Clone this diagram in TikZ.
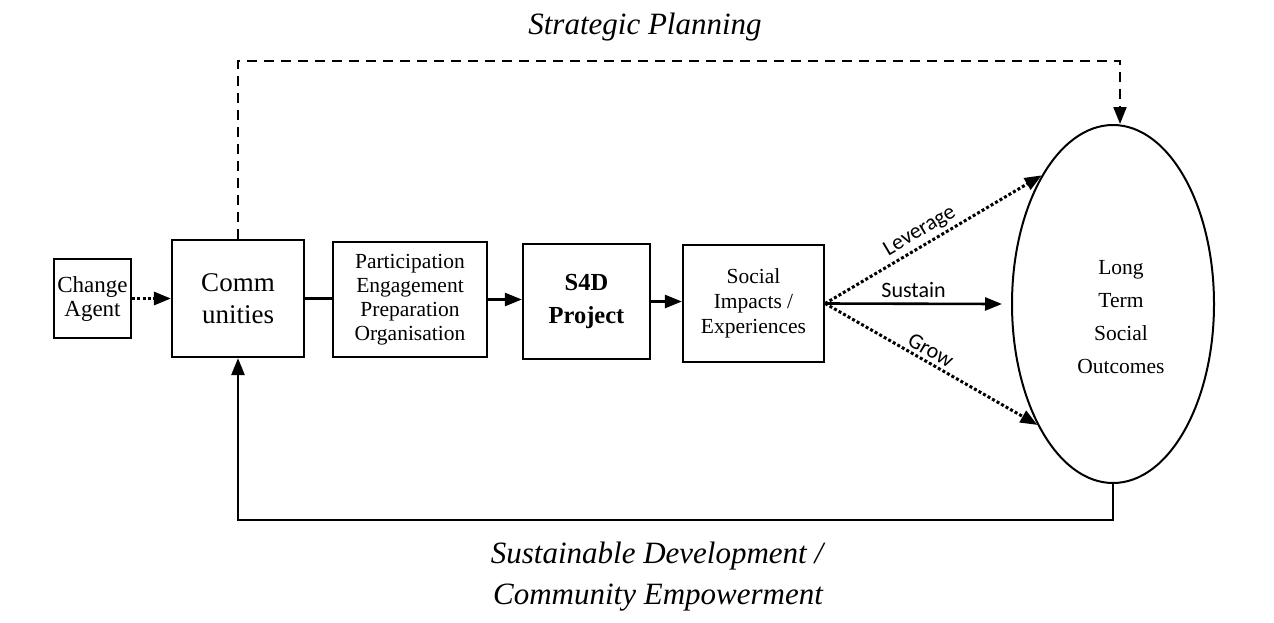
\documentclass[tikz,border=0pt]{standalone}
\usepackage{fontspec}
\setmainfont{Liberation Serif}
\newfontfamily\labelfont{Carlito}
\usetikzlibrary{arrows.meta,shapes.geometric}
\begin{document}
\begin{tikzpicture}[x=1pt,y=-1pt,
  tip/.style={-{Triangle[length=17pt,width=13pt]}},
  box/.style={draw,line width=2.2pt,rectangle,inner sep=0pt,align=center},
  flow/.style={line width=2.6pt,tip},
  dotflow/.style={line width=3pt,dash pattern=on 3pt off 2.2pt,tip},
  dashflow/.style={line width=2pt,dash pattern=on 10pt off 7pt,tip},
  caption/.style={font=\fontsize{31}{42}\selectfont\itshape,align=center},
  edgelabel/.style={font=\labelfont\fontsize{22}{24}\selectfont}]
\useasboundingbox (0,0) rectangle (1274,622);

% boxes of the chain
\node[box,minimum width=77pt,minimum height=79pt,font=\fontsize{23}{24}\selectfont]
  (agent) at (92.5,298.5) {Change\\Agent};
\node[box,minimum width=132pt,minimum height=117pt,font=\fontsize{27}{32}\selectfont]
  (comm) at (238,298.5) {Comm\\unities};
\node[box,minimum width=154pt,minimum height=115pt,font=\fontsize{21.5}{24}\selectfont]
  (prep) at (410,299.5) {Participation\\Engagement\\Preparation\\Organisation};
\node[box,minimum width=127pt,minimum height=115pt,font=\fontsize{24.5}{33}\selectfont\bfseries]
  (s4d) at (586.5,301.5) {S4D\\Project};
\node[box,minimum width=141pt,minimum height=117pt,font=\fontsize{21.5}{25}\selectfont]
  (soc) at (753.5,303.5) {Social\\Impacts /\\Experiences};
\node[draw,line width=2pt,ellipse,minimum width=202pt,minimum height=358pt,inner sep=0pt]
  (out) at (1113,304) {};
\node[align=center,font=\fontsize{21.5}{33}\selectfont] (outtext) at (1121,317)
  {Long\\Term\\Social\\Outcomes};

% chain connectors
\draw[dotflow] (agent.east) -- (agent.east -| comm.west);
\draw[line width=2.6pt] (comm.east) -- (comm.east -| prep.west);
\draw[flow] (prep.east) -- (prep.east -| s4d.west);
\draw[flow] (s4d.east) -- (s4d.east -| soc.west);

% routes to the outcomes
\draw[dotflow] (soc.east) -- node[edgelabel,sloped,above=0pt,pos=0.47] {Leverage} (out.119);
\draw[flow] (soc.east) -- node[edgelabel,above=1pt] {Sustain} ([xshift=-9pt]out.west);
\draw[dotflow] (soc.east) -- node[edgelabel,sloped,above=0pt,pos=0.47] {Grow} (out.238);

% strategic planning loop (top)
\draw[dashflow] (comm.north) -- ++(0,-178) -| ([xshift=7pt]out.north);
\node[caption] (plan) at (645,27) {Strategic Planning};

% feedback loop (bottom)
\draw[flow] (out.south) -- ++(0,36) -| (comm.south);
\node[caption] (sd) at (657,556) {Sustainable Development /};
\node[caption] (ce) at (658,598) {Community Empowerment};
\end{tikzpicture}
\end{document}
